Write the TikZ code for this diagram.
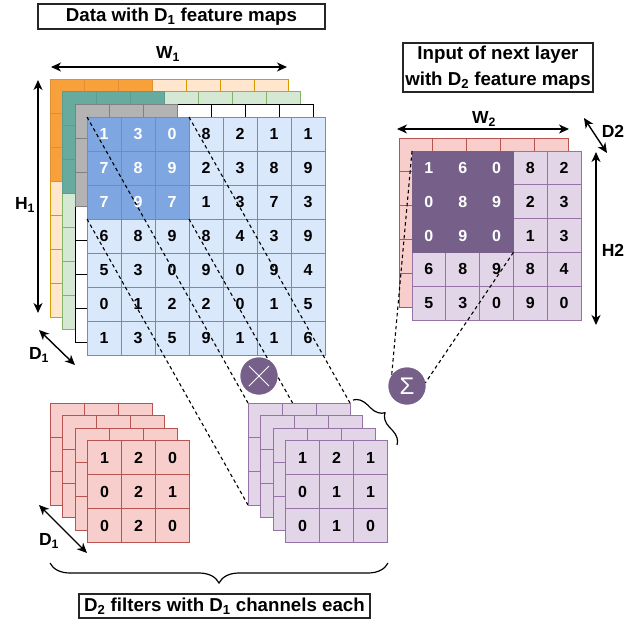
\documentclass[tikz,border=0pt]{standalone}
\usepackage{fontspec}
\setmainfont{Liberation Sans}
\usetikzlibrary{arrows.meta,decorations.pathreplacing,calc}
\definecolor{orF}{HTML}{FFE6CC}\definecolor{orS}{HTML}{D79B00}\definecolor{orH}{HTML}{F8A03A}
\definecolor{grF}{HTML}{D5E8D4}\definecolor{grS}{HTML}{82B366}\definecolor{grH}{HTML}{67AB9F}
\definecolor{gyH}{HTML}{B3B3B3}
\definecolor{blF}{HTML}{DAE8FC}\definecolor{blS}{HTML}{6C8EBF}\definecolor{blH}{HTML}{7EA6E0}
\definecolor{rdF}{HTML}{F8CECC}\definecolor{rdS}{HTML}{B85450}
\definecolor{puF}{HTML}{E1D5E7}\definecolor{puS}{HTML}{9673A6}\definecolor{puH}{HTML}{76608A}
% x y cols rows fill stroke hfill hstroke hn
\newcommand\gridlayer[9]{%
  \foreach \cc in {1,...,#3}{\foreach \rr in {1,...,#4}{
    \draw[cellline,fill=#5,draw=#6] ({#1+(\cc-1)*\cs},{#2+(\rr-1)*\cs}) rectangle ++(\cs,\cs);}}
  \ifnum#9>0
  \foreach \cc in {1,...,#9}{\foreach \rr in {1,...,#9}{
    \draw[cellline,fill=#7,draw=#8] ({#1+(\cc-1)*\cs},{#2+(\rr-1)*\cs}) rectangle ++(\cs,\cs);}}
  \fi}
% name x y cs rows hn
\newcommand\gridnums[6]{%
  \foreach \row [count=\r] in {#5}{\foreach \v [count=\c] in \row{
    \ifnum\r>#6 \def\tc{black}\else\ifnum\c>#6 \def\tc{black}\else\def\tc{white}\fi\fi
    \node[num,text=\tc] (#1-\r-\c) at ({#2+(\c-0.5)*#4},{#3+(\r-0.5)*#4}) {\v};}}}
\begin{document}
\begin{tikzpicture}[x=1pt,y=-1pt,
  cellline/.style={line width=0.9pt},
  num/.style={font=\bfseries\fontsize{16}{16}\selectfont, inner sep=0pt},
  dimarrow/.style={line width=1.4pt, {Stealth[length=10pt,width=9pt,inset=3pt]}-{Stealth[length=10pt,width=9pt,inset=3pt]}},
  dimlabel/.style={font=\bfseries\fontsize{17.5}{17.5}\selectfont, inner sep=0pt},
  dashline/.style={line width=1.1pt, dash pattern=on 3.5pt off 3pt},
  titlebox/.style={draw=black!85, line width=1.2pt, fill=white, font=\bfseries\fontsize{18.7}{26}\selectfont, inner sep=0pt, align=center},
  opcircle/.style={circle, fill=puH, minimum size=37pt, inner sep=0pt, text=white, font=\fontsize{24}{24}\selectfont},
  bracestyle/.style={line width=1.2pt, decorate, decoration={brace, amplitude=#1}}
]
\fill[white] (0,0) rectangle (632,619);
\useasboundingbox (0,0) rectangle (632,619);
% data stack
\def\cs{34}
\gridlayer{50}{79}{7}{7}{orF}{orS}{orH}{orH!90!black}{3}
\gridlayer{62.5}{91.5}{7}{7}{grF}{grS}{grH}{grH!90!black}{3}
\gridlayer{75}{104}{7}{7}{white}{black}{gyH}{gray}{3}
\gridlayer{87}{117}{7}{7}{blF}{blS}{blH}{blS}{3}
\gridnums{b}{87}{117}{34}{{1,3,0,8,2,1,1},{7,8,9,2,3,8,9},{7,9,7,1,3,7,3},{6,8,9,8,4,3,9},{5,3,0,9,0,9,4},{0,1,2,2,0,1,5},{1,3,5,9,1,1,6}}{3}
% output stack
\def\cs{33.8}
\gridlayer{399}{138}{5}{5}{rdF}{rdS}{rdF}{rdS}{0}
\gridlayer{412}{151}{5}{5}{puF}{puS}{puH}{puH}{3}
\gridnums{o}{412}{151}{33.8}{{1,6,0,8,2},{0,8,9,2,3},{0,9,0,1,3},{6,8,9,8,4},{5,3,0,9,0}}{3}
% coordinates
\coordinate (hTL) at (87,117); \coordinate (hTR) at (189,117);
\coordinate (hBL) at (87,219); \coordinate (hBR) at (189,219);
\coordinate (fTL) at (248,403); \coordinate (fTR) at (350,403);
\coordinate (fBL) at (248,505); \coordinate (fBR) at (350,505);
\coordinate (oTL) at (412,151); \coordinate (oBR) at (513.4,252.4);
\node[opcircle] (mul) at (259,376) {};
\node[opcircle] (sig) at (407,386) {Σ};
% dashed connectors
\draw[dashline] (hTL) -- (fTL);
\draw[dashline] (hTR) -- (fTR);
\draw[dashline] (hBL) -- (fBL);
\draw[dashline] (hBR) -- (fBR);
\draw[dashline] (oTL) -- (sig.145);
\draw[dashline] (oBR) -- (sig.10);
% filters
\def\cs{34}
\foreach \k in {0,1,2,3}{\gridlayer{50+12.5*\k}{403+12.5*\k}{3}{3}{rdF}{rdS}{rdF}{rdS}{0}}
\foreach \k in {0,1,2,3}{\gridlayer{248+12.5*\k}{403+12.5*\k}{3}{3}{puF}{puS}{puF}{puS}{0}}
\gridnums{r}{87.5}{440.5}{34}{{1,2,0},{0,2,1},{0,2,0}}{0}
\gridnums{p}{285.5}{440.5}{34}{{1,2,1},{0,1,1},{0,1,0}}{0}
% operator circles (redraw on top)
\node[opcircle] (mul2) at (mul) {};
\draw[white,line width=0.9pt] ($(mul)+(-10,-10)$) -- ($(mul)+(10,10)$);
\draw[white,line width=0.9pt] ($(mul)+(-10,10)$) -- ($(mul)+(10,-10)$);
\node[opcircle] (sig2) at (sig) {Σ};
% braces
\coordinate (brA) at (353,400); \coordinate (brB) at (397,445);
\draw[bracestyle=14pt] (brA) -- (brB);
\coordinate (brC) at (388,563); \coordinate (brD) at (50,563);
\draw[bracestyle=20pt] (brC) -- (brD);
% dimension arrows
\coordinate (w1a) at (51,67); \coordinate (w1b) at (287,67);
\draw[dimarrow] (w1a) -- (w1b);
\node[dimlabel] (w1) at (168,54) {W\textsubscript{1}};
\coordinate (h1a) at (38,80); \coordinate (h1b) at (38,313);
\draw[dimarrow] (h1a) -- (h1b);
\node[dimlabel] (h1) at (25,205) {H\textsubscript{1}};
\coordinate (d1a) at (39,330); \coordinate (d1b) at (75,365);
\draw[dimarrow] (d1a) -- (d1b);
\node[dimlabel] (d1) at (39,355) {D\textsubscript{1}};
\coordinate (d1c) at (39,505); \coordinate (d1d) at (87,553);
\draw[dimarrow] (d1c) -- (d1d);
\node[dimlabel] (d1x) at (49,541) {D\textsubscript{1}};
\coordinate (w2a) at (397,129); \coordinate (w2b) at (569,129);
\draw[dimarrow] (w2a) -- (w2b);
\node[dimlabel] (w2) at (484,119) {W\textsubscript{2}};
\coordinate (d2a) at (584,118); \coordinate (d2b) at (607,153);
\draw[dimarrow] (d2a) -- (d2b);
\node[dimlabel] (d2) at (613,131) {D2};
\coordinate (h2a) at (596,152); \coordinate (h2b) at (596,325);
\draw[dimarrow] (h2a) -- (h2b);
\node[dimlabel] (h2) at (613,250) {H2};
% title boxes
\node[titlebox, minimum width=287pt, minimum height=25pt] (t1) at (181.5,16.5) {Data with D\textsubscript{1} feature maps};
\node[titlebox, minimum width=190pt, minimum height=49pt] (t2) at (498,67.5) {Input of next layer\\with D\textsubscript{2} feature maps};
\node[titlebox, minimum width=291pt, minimum height=24pt] (t3) at (224.5,606) {D\textsubscript{2} filters with D\textsubscript{1} channels each};
\end{tikzpicture}
\end{document}
